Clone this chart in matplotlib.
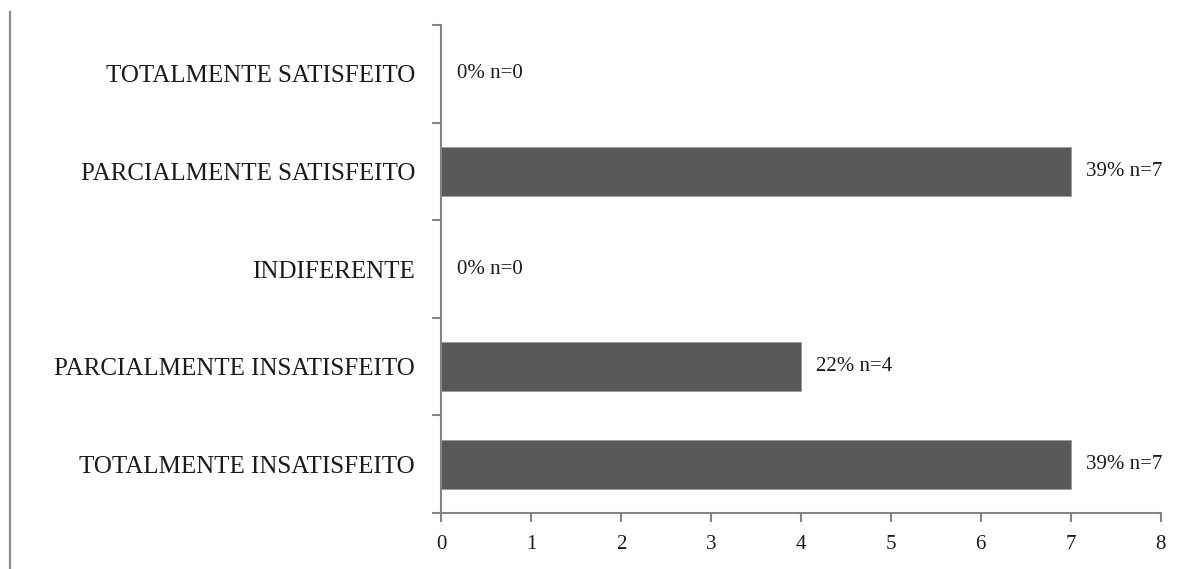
import matplotlib
matplotlib.use("Agg")
import matplotlib.pyplot as plt
from matplotlib.lines import Line2D
import numpy as np

categories = [
    "TOTALMENTE INSATISFEITO",
    "PARCIALMENTE INSATISFEITO",
    "INDIFERENTE",
    "PARCIALMENTE SATISFEITO",
    "TOTALMENTE SATISFEITO",
]
counts = [7, 4, 0, 7, 0]
percents = [39, 22, 0, 39, 0]
x_ticks = [0, 1, 2, 3, 4, 5, 6, 7, 8]

plt.rcParams["font.family"] = ["Liberation Serif", "DejaVu Serif"]
plt.rcParams["font.size"] = 15

W, H = 1184, 569
fig = plt.figure(figsize=(W / 100, H / 100), dpi=100)
ax = fig.add_axes([441.5 / W, 1 - 513 / H, (1160.5 - 441.5) / W, (513 - 25) / H])

axis_gray = "#858585"
bar_gray = "#595959"
text_color = "#1a1a1a"

y = np.arange(len(categories))
ax.barh(y, counts, height=0.5, color=bar_gray, edgecolor="#9a9a9a", linewidth=0.6)

for yi, n, p in zip(y, counts, percents):
    ax.annotate(f"{p}% n={n}", xy=(n, yi), xytext=(11, 0), textcoords="offset points",
                ha="left", va="center", fontsize=15, color=text_color)

ax.set_xlim(0, 8)
ax.set_ylim(-0.5, len(categories) - 0.5)
ax.set_xticks(x_ticks)
ax.set_xticklabels([str(t) for t in x_ticks])

ax.set_yticks(y)
ax.set_yticklabels(categories)
ax.set_yticks(np.arange(-0.5, len(categories)), minor=True)
ax.tick_params(axis="y", which="major", length=0, pad=19, labelsize=18, labelcolor=text_color)
ax.tick_params(axis="y", which="minor", length=6.5, width=1.5, color=axis_gray, direction="out")
ax.tick_params(axis="x", length=6.5, width=1.5, color=axis_gray, direction="out", pad=9,
               labelsize=15, labelcolor=text_color)

for side in ("top", "right"):
    ax.spines[side].set_visible(False)
for side in ("left", "bottom"):
    ax.spines[side].set_color(axis_gray)
    ax.spines[side].set_linewidth(1.5)

# frame line on the left edge of the figure
fig.add_artist(Line2D([9.5 / W, 9.5 / W], [0, 1 - 12 / H], transform=fig.transFigure,
                      color="#8a8a8a", linewidth=1.6))

fig.savefig("out.png", dpi=100)
